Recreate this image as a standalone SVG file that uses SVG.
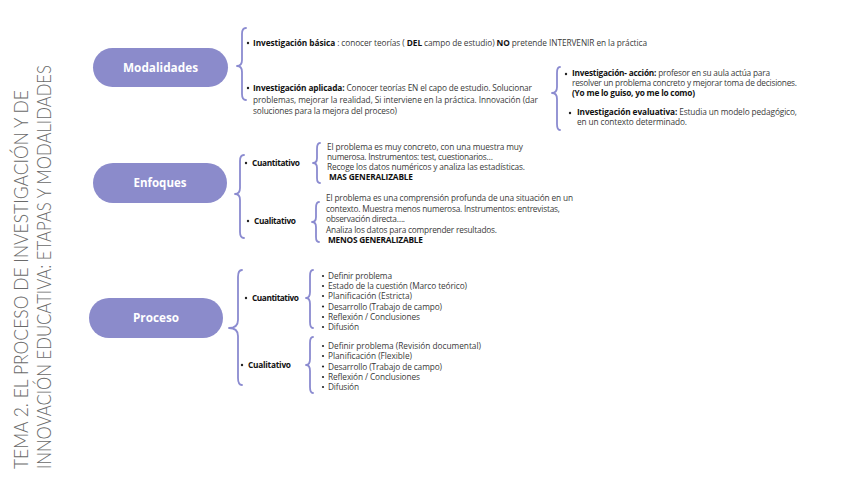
<svg xmlns="http://www.w3.org/2000/svg" width="848" height="477" viewBox="0 0 848 477">
<style>
.bg{fill:#ffffff}
.pill{fill:#8b8bcb}
.pt{font-family:"Open Sans","Liberation Sans",sans-serif;font-weight:700;font-size:12px;fill:#ffffff;text-anchor:middle}
.br{fill:none;stroke:#8b8bd0;stroke-width:1.8;stroke-linecap:round;stroke-linejoin:round}
.t{font-family:"Open Sans","Liberation Sans",sans-serif;font-size:8.3px;fill:#3a3a3a}
.b{font-weight:700;fill:#111111}
.lb{font-family:"Open Sans","Liberation Sans",sans-serif;font-size:8.3px;font-weight:700;fill:#111111}
.dot{fill:#222222}
.title{font-family:Lato,"Liberation Sans",sans-serif;font-weight:300;font-size:20px;fill:#6a6a6a}
</style>
<rect class="bg" x="0" y="0" width="848" height="477"/>

<g id="title">
<text class="title" transform="translate(28,469) rotate(-90)" textLength="379" lengthAdjust="spacingAndGlyphs">TEMA 2. EL PROCESO DE INVESTIGACIÓN Y DE</text>
<text class="title" transform="translate(51,469) rotate(-90)" textLength="404" lengthAdjust="spacingAndGlyphs">INNOVACIÓN EDUCATIVA: ETAPAS Y MODALIDADES</text>
</g>

<g id="connectors">
<path class="br" d="M246,28 Q242,28 242,34 L242,60 Q242,66 237,66 Q242,66 242,72 L242,94 Q242,100 246,100"/>
<path class="br" d="M560,67 Q557,67 557,73 L557,87 Q557,93 552,93 Q557,93 557,99 L557,124 Q557,130 560,130"/>
<path class="br" d="M244,155 Q240,155 240,161 L240,188 Q240,194 235,194 Q240,194 240,200 L240,232 Q240,238 244,238"/>
<path class="br" d="M320,143 Q317,143 317,149 L317,158 Q317,163 313,163 Q317,163 317,168 L317,178 Q317,183 320,183"/>
<path class="br" d="M319,202 Q316,202 316,208 L316,217 Q316,222 312,222 Q316,222 316,227 L316,237 Q316,242 319,242"/>
<path class="br" d="M242,270 Q238,270 238,277 L238,320 Q238,328 229,328 Q238,328 238,336 L238,378 Q238,385 242,385"/>
<path class="br" d="M313,270 Q310,270 310,276 L310,292 Q310,298 306,298 Q310,298 310,304 L310,322 Q310,328 313,328"/>
<path class="br" d="M313,337 Q310,337 310,343 L310,359 Q310,365 306,365 Q310,365 310,371 L310,387 Q310,393 313,393"/>
</g>

<g id="node-modalidades">
<rect class="pill" x="93" y="48" width="135" height="39" rx="19.5"/>
<text class="pt" x="160.5" y="71.5" textLength="75" lengthAdjust="spacingAndGlyphs">Modalidades</text>
</g>

<g id="node-enfoques">
<rect class="pill" x="93" y="163" width="134" height="40" rx="20"/>
<text class="pt" x="160" y="187" textLength="53" lengthAdjust="spacingAndGlyphs">Enfoques</text>
</g>

<g id="node-proceso">
<rect class="pill" x="89" y="298" width="134" height="40" rx="20"/>
<text class="pt" x="156" y="322" textLength="46" lengthAdjust="spacingAndGlyphs">Proceso</text>
</g>

<g id="modalidades-basica">
<circle class="dot" cx="248" cy="43" r="1.2"/>
<text class="t" x="253" y="46" textLength="394"><tspan class="b">Investigación básica</tspan> : conocer teorías ( <tspan class="b">DEL</tspan> campo de estudio) <tspan class="b">NO</tspan> pretende INTERVENIR  en la práctica</text>
</g>

<g id="modalidades-aplicada">
<circle class="dot" cx="248" cy="88" r="1.2"/>
<text class="t" x="253" y="91" textLength="279"><tspan class="b">Investigación aplicada:</tspan> Conocer teorías EN el capo de estudio. Solucionar</text>
<text class="t" x="253" y="103" textLength="285">problemas,  mejorar la realidad, Si interviene en la práctica. Innovación (dar</text>
<text class="t" x="253" y="114" textLength="144">soluciones para la mejora del proceso)</text>
</g>

<g id="modalidades-accion">
<circle class="dot" cx="566" cy="74" r="1.2"/>
<text class="t" x="572" y="76" textLength="198"><tspan class="b">Investigación- acción:</tspan> profesor en su aula actúa para</text>
<text class="t" x="572" y="86" textLength="225">resolver un problema concreto y mejorar toma de decisiones.</text>
<text class="lb" x="572" y="96" textLength="123">(Yo me lo guiso, yo me lo como)</text>
</g>

<g id="modalidades-evaluativa">
<circle class="dot" cx="570" cy="113" r="1.2"/>
<text class="t" x="577" y="115" textLength="220"><tspan class="b">Investigación evaluativa:</tspan>  Estudia un modelo pedagógico,</text>
<text class="t" x="577" y="125" textLength="110">en un contexto determinado.</text>
</g>

<g id="enfoques-cuantitativo">
<circle class="dot" cx="246" cy="163" r="1.2"/>
<text class="lb" x="252" y="166" textLength="48">Cuantitativo</text>
<text class="t" x="327" y="150" textLength="196">El problema es muy concreto, con una muestra muy</text>
<text class="t" x="327" y="160" textLength="166">numerosa. Instrumentos: test, cuestionarios…</text>
<text class="t" x="327" y="170" textLength="198">Recoge los datos numéricos y analiza las estadísticas.</text>
<text class="lb" x="329" y="180" textLength="84">MAS GENERALIZABLE</text>
</g>

<g id="enfoques-cualitativo">
<circle class="dot" cx="248" cy="221" r="1.2"/>
<text class="lb" x="254" y="224" textLength="42">Cualitativo</text>
<text class="t" x="326" y="201" textLength="247">El problema es una comprensión profunda de una situación en un</text>
<text class="t" x="326" y="212" textLength="234">contexto. Muestra menos numerosa. Instrumentos: entrevistas,</text>
<text class="t" x="326" y="222" textLength="79">observación directa….</text>
<text class="t" x="326" y="233" textLength="171">Analiza los datos para comprender resultados.</text>
<text class="lb" x="328" y="243" textLength="95">MENOS GENERALIZABLE</text>
</g>

<g id="proceso-cuantitativo">
<circle class="dot" cx="246" cy="298" r="1.2"/>
<text class="lb" x="252" y="301" textLength="47">Cuantitativo</text>
<circle class="dot" cx="323" cy="276" r="1.1"/>
<text class="t" x="328" y="279" textLength="64">Definir problema</text>
<circle class="dot" cx="323" cy="286" r="1.1"/>
<text class="t" x="328" y="289" textLength="139">Estado de la cuestión (Marco teórico)</text>
<circle class="dot" cx="323" cy="296" r="1.1"/>
<text class="t" x="328" y="299" textLength="84">Planificación (Estricta)</text>
<circle class="dot" cx="323" cy="306.5" r="1.1"/>
<text class="t" x="328" y="309.5" textLength="114">Desarrollo (Trabajo de campo)</text>
<circle class="dot" cx="323" cy="317" r="1.1"/>
<text class="t" x="328" y="320" textLength="92">Reflexión / Conclusiones</text>
<circle class="dot" cx="323" cy="327" r="1.1"/>
<text class="t" x="328" y="330" textLength="31">Difusión</text>
</g>

<g id="proceso-cualitativo">
<circle class="dot" cx="242" cy="365" r="1.2"/>
<text class="lb" x="248" y="368" textLength="43">Cualitativo</text>
<circle class="dot" cx="323" cy="346" r="1.1"/>
<text class="t" x="328" y="349" textLength="153">Definir problema (Revisión  documental)</text>
<circle class="dot" cx="323" cy="356" r="1.1"/>
<text class="t" x="328" y="359" textLength="84">Planificación (Flexible)</text>
<circle class="dot" cx="323" cy="366.5" r="1.1"/>
<text class="t" x="328" y="369.5" textLength="114">Desarrollo (Trabajo de campo)</text>
<circle class="dot" cx="323" cy="377" r="1.1"/>
<text class="t" x="328" y="380" textLength="92">Reflexión / Conclusiones</text>
<circle class="dot" cx="323" cy="387" r="1.1"/>
<text class="t" x="328" y="390" textLength="31">Difusión</text>
</g>
</svg>
